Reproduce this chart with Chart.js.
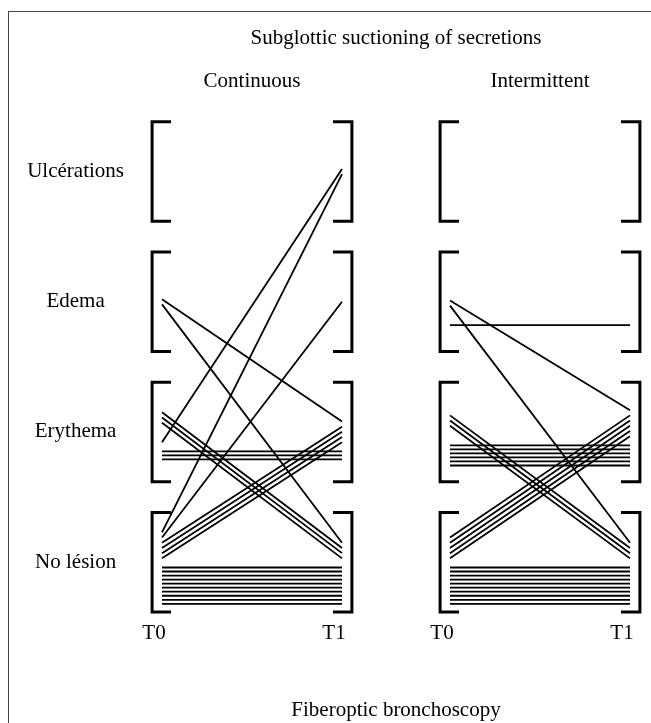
<!DOCTYPE html>
<html>
<head>
<meta charset="utf-8">
<script src="https://cdn.jsdelivr.net/npm/chart.js@4.4.1/dist/chart.umd.min.js"></script>
<style>
  html, body { margin: 0; padding: 0; background: #fff; }
  #frame { position: absolute; left: 8px; top: 11px; width: 700px; height: 800px;
           border-left: 1px solid #444; border-top: 1px solid #444; }
  #wrap { position: absolute; left: 0; top: 0; width: 651px; height: 723px; }
</style>
</head>
<body>
<div id="frame"></div>
<div id="wrap"><canvas id="chart"></canvas></div>
<script>
// categories from bottom (0) to top (3)
const categories = ['No lésion', 'Erythema', 'Edema', 'Ulcérations']
const groups = ['Continuous', 'Intermittent']
const timeLabels = ['T0', 'T1']

// patient transitions T0 -> T1, in drawing order
const continuousFrom = ['Edema', 'Edema', 'Erythema', 'Erythema', 'Erythema', 'No lésion', 'No lésion', 'No lésion', 'No lésion']
const continuousTo = ['Erythema', 'No lésion', 'No lésion', 'Ulcérations', 'Erythema', 'Ulcérations', 'Edema', 'Erythema', 'No lésion']
const continuousCount = [1, 1, 3, 1, 3, 1, 1, 4, 10]

const intermittentFrom = ['Edema', 'Edema', 'Edema', 'Erythema', 'Erythema', 'No lésion', 'No lésion']
const intermittentTo = ['Erythema', 'No lésion', 'Edema', 'No lésion', 'Erythema', 'Erythema', 'No lésion']
const intermittentCount = [1, 1, 1, 3, 6, 5, 10]

// layout (data units)
const panelX = [0, 1.6]          // T0 position of each panel, T1 = +1
const MOVE_STEP = 0.04
const STAY_STEP = 0.031
const NEAR_GAP = 0.07
const FAR_GAP = 0.15
const STAY_SHIFT = 0.18
const BR_HALF = 0.382
const BR_OUT = 0.055
const BR_ARM = 0.105
const FONT = { family: '"Liberation Serif", "Times New Roman", serif', size: 21 }

// stack a block of lines downward from `top`, return the y under the block
function stack (list, key, top) {
  list.forEach((l, j) => { l[key] = top - j * MOVE_STEP })
  return top - (list.length - 1) * MOVE_STEP
}

function buildLines (from, to, count) {
  let lines = []
  from.forEach((f, i) => {
    for (let k = 0; k < count[i]; k++) {
      lines.push({ a: categories.indexOf(f), b: categories.indexOf(to[i]) })
    }
  })
  categories.forEach((c, ci) => {
    let staying = lines.filter(l => l.a === ci && l.b === ci)
    let stayTop = null
    if (staying.length) {
      let h = (staying.length - 1) * STAY_STEP
      stayTop = ci - STAY_SHIFT + h / 2
      staying.forEach((l, j) => { l.ya = l.yb = stayTop - j * STAY_STEP })
    }
    // T0 side: rising lines sit just above the stable block, falling ones higher up
    let rising = lines.filter(l => l.a === ci && l.b > ci)
    let falling = lines.filter(l => l.a === ci && l.b < ci)
    if (stayTop === null) {
      let all = falling.concat(rising)
      stack(all, 'ya', ci + (all.length - 1) * MOVE_STEP / 2)
    } else {
      let base = stayTop + NEAR_GAP
      if (rising.length) {
        stack(rising, 'ya', base + (rising.length - 1) * MOVE_STEP)
        base += (rising.length - 1) * MOVE_STEP + FAR_GAP
      } else if (falling.length) {
        base += FAR_GAP - NEAR_GAP
      }
      stack(falling, 'ya', base + (falling.length - 1) * MOVE_STEP)
    }
    // T1 side: all arrivals in one block
    let arriving = lines.filter(l => l.b === ci && l.a !== ci)
    if (arriving.length) {
      let h = (arriving.length - 1) * MOVE_STEP
      let top = stayTop === null ? ci + h / 2 : stayTop + NEAR_GAP + h
      stack(arriving, 'yb', top)
    }
  })
  return lines
}

let datasets = []
const panels = [
  buildLines(continuousFrom, continuousTo, continuousCount),
  buildLines(intermittentFrom, intermittentTo, intermittentCount)
]

panels.forEach((lines, p) => {
  let x0 = panelX[p]
  let x1 = x0 + 1
  lines.forEach(l => {
    datasets.push({
      data: [{ x: x0, y: l.ya }, { x: x1, y: l.yb }],
      borderColor: '#000',
      borderWidth: 1.8
    })
  })
  categories.forEach((c, ci) => {
    let lx = x0 - BR_OUT
    let rx = x1 + BR_OUT
    datasets.push({
      data: [{ x: lx + BR_ARM, y: ci + BR_HALF }, { x: lx, y: ci + BR_HALF }, { x: lx, y: ci - BR_HALF }, { x: lx + BR_ARM, y: ci - BR_HALF }],
      borderColor: '#000',
      borderWidth: 3,
      borderJoinStyle: 'miter'
    })
    datasets.push({
      data: [{ x: rx - BR_ARM, y: ci + BR_HALF }, { x: rx, y: ci + BR_HALF }, { x: rx, y: ci - BR_HALF }, { x: rx - BR_ARM, y: ci - BR_HALF }],
      borderColor: '#000',
      borderWidth: 3,
      borderJoinStyle: 'miter'
    })
  })
})

datasets.forEach(d => {
  d.showLine = true
  d.pointRadius = 0
  d.fill = false
})

const timeTicks = []
panelX.forEach(x => { timeTicks.push(x, x + 1) })

new Chart(document.getElementById('chart').getContext('2d'), {
  type: 'scatter',
  data: { datasets: datasets },
  options: {
    responsive: true,
    maintainAspectRatio: false,
    animation: false,
    events: [],
    layout: { padding: { left: 0, right: 3, top: 0, bottom: 0 } },
    plugins: {
      legend: { display: false },
      tooltip: { enabled: false },
      title: {
        display: true,
        text: 'Subglottic suctioning of secretions',
        fullSize: false,
        color: '#000',
        font: Object.assign({ weight: 'normal' }, FONT),
        padding: { top: 26, bottom: 6 }
      },
      subtitle: {
        display: true,
        position: 'bottom',
        text: 'Fiberoptic bronchoscopy',
        fullSize: false,
        color: '#000',
        font: FONT,
        padding: { top: 47, bottom: 0 }
      }
    },
    scales: {
      x: {
        type: 'linear',
        position: 'bottom',
        min: -0.1,
        max: 2.7,
        grid: { display: false, drawTicks: false },
        border: { display: false },
        afterBuildTicks: s => { s.ticks = timeTicks.map(v => ({ value: v })) },
        ticks: {
          autoSkip: false,
          maxRotation: 0,
          color: '#000',
          font: FONT,
          padding: 5,
          labelOffset: -8,
          callback: (v, i) => timeLabels[i % 2]
        }
      },
      x2: {
        type: 'linear',
        position: 'top',
        min: -0.1,
        max: 2.7,
        grid: { display: false, drawTicks: false },
        border: { display: false },
        afterBuildTicks: s => { s.ticks = panelX.map(v => ({ value: v + 0.5 })) },
        ticks: {
          autoSkip: false,
          maxRotation: 0,
          color: '#000',
          font: FONT,
          padding: 12,
          callback: (v, i) => groups[i]
        }
      },
      y: {
        type: 'linear',
        min: -0.41,
        max: 3.5,
        grid: { display: false, drawTicks: false },
        border: { display: false },
        afterBuildTicks: s => { s.ticks = categories.map((c, i) => ({ value: i })) },
        afterFit: s => { s.width = 144 },
        ticks: {
          color: '#000',
          font: FONT,
          crossAlign: 'center',
          padding: 20,
          callback: (v, i) => categories[i]
        }
      }
    }
  }
})
</script>
</body>
</html>
